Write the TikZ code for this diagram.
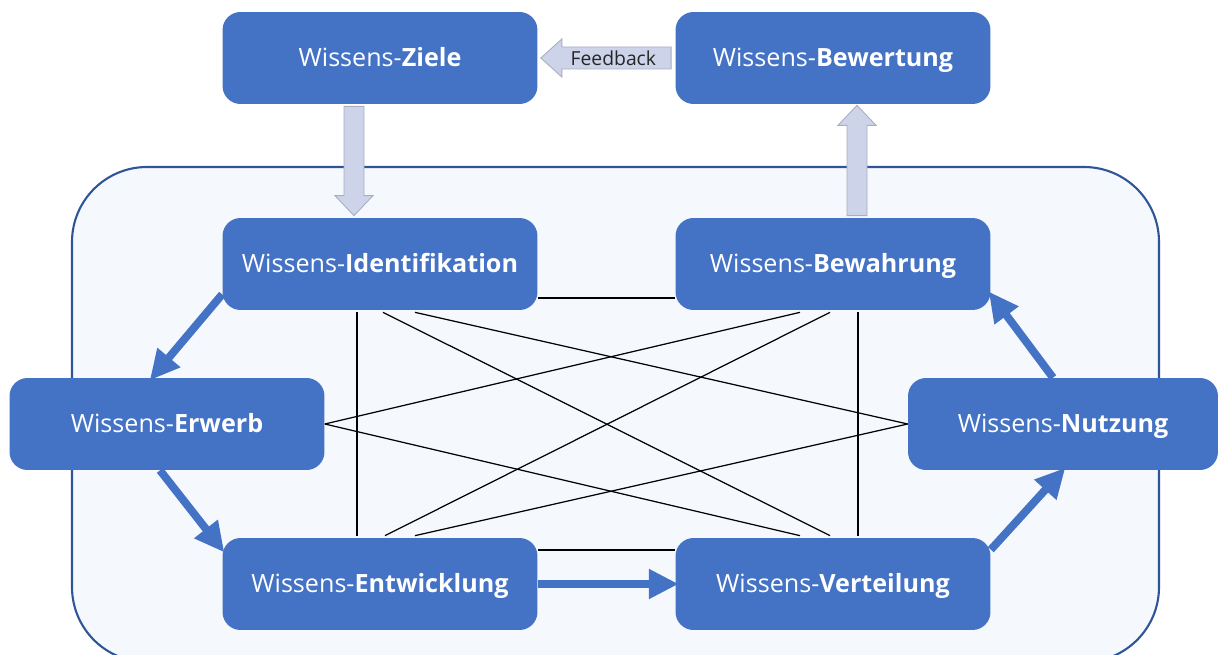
\documentclass[tikz,border=0pt]{standalone}
\usepackage{fontspec}
\setmainfont{Open Sans}
\usepackage{tikz}
\usetikzlibrary{calc,arrows.meta}

\definecolor{boxblue}{HTML}{4472C4}
\definecolor{frameblue}{HTML}{2F5597}
\definecolor{framefill}{HTML}{F5F9FD}
\definecolor{lavender}{HTML}{CDD4EA}
\definecolor{lavenderline}{HTML}{A9AEBF}
\definecolor{darktext}{HTML}{262626}

\begin{document}
\begin{tikzpicture}[x=0.02cm, y=-0.02cm,
    wbox/.style={rectangle, rounded corners=0.36cm, fill=boxblue, text=white,
        minimum width=6.3cm, minimum height=1.84cm, inner sep=0pt,
        text height=1.07em, text depth=0.11em, font=\fontsize{14.3}{16}\selectfont},
    flow/.style={draw=boxblue, line width=4.5pt, -{Triangle[length=17pt,width=16pt]}, shorten >=-2pt},
    blockarrow/.style={fill=lavender, draw=lavenderline, line width=0.5pt, line join=miter},
    link/.style={draw=black, line width=0.7pt}]
    \useasboundingbox (0,0) rectangle (1218,655);

    \begin{scope}
        \clip (0,0) rectangle (1218,655);
        \draw[draw=frameblue, fill=framefill, line width=1.2pt, rounded corners=1.5cm]
            (72,167) rectangle (1159,662);
    \end{scope}

    \node[wbox] (ziele) at (380,58) {Wissens-\textbf{Ziele}};
    \node[wbox] (bewert) at (833,58) {Wissens-\textbf{Bewertung}};
    \node[wbox] (ident) at (380,264) {Wissens-\textbf{Identifikation}};
    \node[wbox] (bewahr) at (833,264) {Wissens-\textbf{Bewahrung}};
    \node[wbox] (erwerb) at (167,424) {Wissens-\textbf{Erwerb}};
    \node[wbox, minimum width=6.2cm] (nutz) at (1063,424) {Wissens-\textbf{Nutzung}};
    \node[wbox] (entw) at (380,584) {Wissens-\textbf{Entwicklung}};
    \node[wbox] (vert) at (833,584) {Wissens-\textbf{Verteilung}};

    % Feedback, Ziele, Bewertung
    \draw[blockarrow] ($(bewert.west)+(-4,-11)$) -- ($(ziele.east)+(24,-11)$)
        -- ($(ziele.east)+(24,-19)$) -- ($(ziele.east)+(3,0)$) -- ($(ziele.east)+(24,19)$)
        -- ($(ziele.east)+(24,11)$) -- ($(bewert.west)+(-4,11)$) -- cycle;
    \node[text=darktext, font=\fontsize{11}{13}\selectfont] (fb) at ($(ziele.east)!0.55!(bewert.west)$) {Feedback};

    \draw[blockarrow] ($(ziele.south)+(-36,2)$) -- ($(ident.north)+(-36,-22)$)
        -- ($(ident.north)+(-45,-22)$) -- ($(ident.north)+(-26,-2)$) -- ($(ident.north)+(-7,-22)$)
        -- ($(ident.north)+(-16,-22)$) -- ($(ziele.south)+(-16,2)$) -- cycle;
    \draw[blockarrow] ($(bewahr.north)+(14,-2)$) -- ($(bewert.south)+(14,21)$)
        -- ($(bewert.south)+(5,21)$) -- ($(bewert.south)+(24,1)$) -- ($(bewert.south)+(43,21)$)
        -- ($(bewert.south)+(34,21)$) -- ($(bewahr.north)+(34,-2)$) -- cycle;

    % Verbindungen im Kreis
    \draw[link] ($(ident.east)+(0,34)$) -- ($(bewahr.west)+(0,34)$);
    \draw[link] ($(entw.east)+(0,-34)$) -- ($(vert.west)+(0,-34)$);
    \draw[link] ($(ident.south)+(-23,2)$) -- ($(entw.north)+(-23,-2)$);
    \draw[link] ($(bewahr.south)+(25,2)$) -- ($(vert.north)+(25,-2)$);
    \draw[link] (erwerb.east) -- ($(bewahr.south)+(-33,2)$);
    \draw[link] (erwerb.east) -- ($(vert.north)+(-33,-2)$);
    \draw[link] ($(ident.south)+(3,2)$) -- ($(vert.north)+(-3,-2)$);
    \draw[link] ($(entw.north)+(5,-2)$) -- ($(bewahr.south)+(-3,2)$);
    \draw[link] ($(ident.south)+(35,2)$) -- (nutz.west);
    \draw[link] ($(entw.north)+(35,-2)$) -- (nutz.west);

    \draw[flow] ($(ident.south west)+(0,-16)$) -- ($(erwerb.north)+(-15,0)$);
    \draw[flow] ($(erwerb.south)+(-7,0)$) -- ($(entw.north west)+(0,12)$);
    \draw[flow] (entw.east) -- (vert.west);
    \draw[flow] ($(vert.north east)+(0,12)$) -- (nutz.south);
    \draw[flow] ($(nutz.north)+(-10,0)$) -- ($(bewahr.south east)+(0,-16)$);
\end{tikzpicture}
\end{document}
